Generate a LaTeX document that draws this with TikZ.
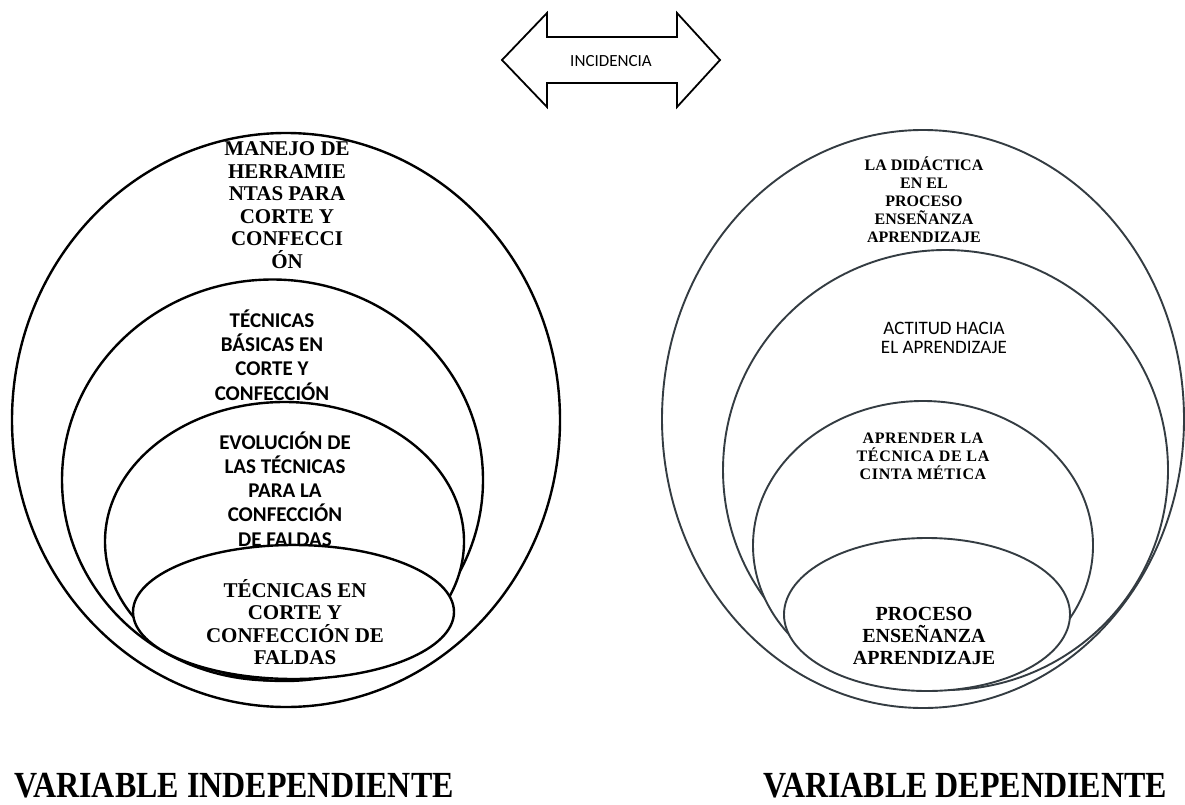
\documentclass[tikz,border=0pt]{standalone}
\usepackage{fontspec}
\setmainfont{Liberation Serif}
\newfontfamily\calib{Carlito}
\definecolor{rline}{RGB}{52,60,66}
\tikzset{
  lring/.style={draw=black, line width=2.4pt, fill=white},
  rring/.style={draw=rline, line width=1.9pt, fill=white},
  serifbig/.style={font=\bfseries\fontsize{21}{22.5}\selectfont, align=center, inner sep=0pt},
  sansbold/.style={font=\calib\bfseries\fontsize{21}{24.2}\selectfont, align=center, inner sep=0pt},
  serifsmall/.style={font=\bfseries\fontsize{16}{18}\selectfont, align=center, inner sep=0pt},
  caption/.style={font=\bfseries\fontsize{32}{34}\selectfont, inner sep=0pt, yscale=1.15},
  arrowshape/.style={draw=black, line width=1.8pt, fill=white, line join=miter}
}
\begin{document}
\begin{tikzpicture}[x=1pt,y=-1pt]
\useasboundingbox (0,0) rectangle (1185,805);

% double arrow
\draw[arrowshape] (502,60) -- (547,13) -- (547,37) -- (677,37) -- (677,13) -- (720,60)
  -- (677,107) -- (677,83) -- (547,83) -- (547,107) -- cycle;
\node[font=\calib\fontsize{17}{18}\selectfont, inner sep=0pt] (inc) at (611,61) {INCIDENCIA};

% left set of ellipses
\path[lring] (286,420) ellipse [x radius=274, y radius=287];
\path[lring] (272.5,480) ellipse [x radius=210.5, y radius=200.5];
\path[lring] (284.5,541.5) ellipse [x radius=179.5, y radius=139.5];
\path[lring] (293.5,612) ellipse [x radius=160.5, y radius=67];

\node[serifbig] (l1) at (287,205) {MANEJO DE\\HERRAMIE\\NTAS PARA\\CORTE Y\\CONFECCI\\ÓN};
\node[sansbold] (l2) at (272,355) {TÉCNICAS\\BÁSICAS EN\\CORTE Y\\CONFECCIÓN};
\node[sansbold] (l3) at (285,489) {EVOLUCIÓN DE\\LAS TÉCNICAS\\PARA LA\\CONFECCIÓN\\DE FALDAS};
\node[serifbig] (l4) at (295,622) {TÉCNICAS EN\\CORTE Y\\CONFECCIÓN DE\\FALDAS};

% right set of ellipses
\path[rring] (923,419) ellipse [x radius=261, y radius=289];
\path[rring] (945.5,470) ellipse [x radius=222.5, y radius=220];
\path[rring] (923,545.5) ellipse [x radius=170, y radius=144.5];
\path[rring] (927,614.5) ellipse [x radius=143, y radius=76.5];

\node[serifsmall] (r1) at (924,200) {LA DIDÁCTICA\\EN EL\\PROCESO\\ENSEÑANZA\\APRENDIZAJE};
\node[font=\calib\fontsize{19}{19.5}\selectfont, align=center, inner sep=0pt] (r2) at (944,338) {ACTITUD HACIA\\EL APRENDIZAJE};
\node[font=\bfseries\addfontfeatures{LetterSpace=4}\fontsize{16}{18}\selectfont, align=center, inner sep=0pt] (r3) at (923,456) {APRENDER LA\\TÉCNICA DE LA\\CINTA MÉTICA};
\node[font=\bfseries\fontsize{20}{22}\selectfont, align=center, inner sep=0pt] (r4) at (924,636) {PROCESO\\ENSEÑANZA\\APRENDIZAJE};

% captions
\node[caption] (capl) at (234,786) {VARIABLE INDEPENDIENTE};
\node[caption] (capr) at (965,786) {VARIABLE DEPENDIENTE};
\end{tikzpicture}
\end{document}
